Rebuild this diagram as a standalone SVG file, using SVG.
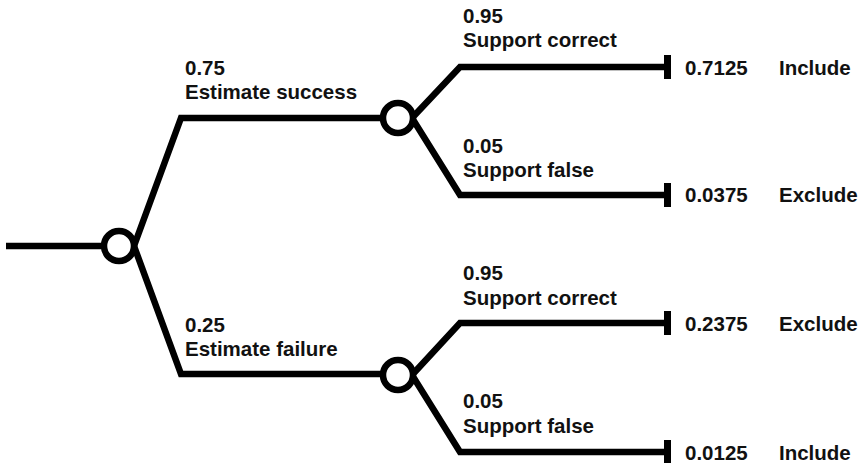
<svg xmlns="http://www.w3.org/2000/svg" width="865" height="463" viewBox="0 0 865 463">
<style>
.ln{fill:none;stroke:#000;stroke-width:6.5;stroke-linejoin:miter}
.nd{fill:#fff;stroke:#000;stroke-width:6.5}
.bar{fill:#000}
text{font-family:"Liberation Sans",Arial,sans-serif;font-weight:bold;font-size:20.5px;fill:#111}
</style>
<rect width="865" height="463" fill="#fff"/>
<g id="connectors">
<path class="ln" d="M6,246 H104"/>
<path class="ln" d="M134,246 L181,118 H383"/>
<path class="ln" d="M134,246 L181,374 H383"/>
<path class="ln" d="M412,118 L460,67 H667"/>
<path class="ln" d="M412,118 L460,195 H667"/>
<path class="ln" d="M412,375 L460,323 H667"/>
<path class="ln" d="M412,375 L460,452 H667"/>
</g>
<g id="root"><circle class="nd" cx="119" cy="246" r="15"/></g>
<g id="chance-success"><circle class="nd" cx="398" cy="118" r="15"/>
<text x="185" y="75">0.75</text><text x="185" y="99">Estimate success</text></g>
<g id="chance-failure"><circle class="nd" cx="398" cy="375" r="15"/>
<text x="185" y="332">0.25</text><text x="185" y="356">Estimate failure</text></g>
<g id="label-s-correct"><text x="463" y="23">0.95</text><text x="463" y="47">Support correct</text></g>
<g id="label-s-false"><text x="463" y="153">0.05</text><text x="463" y="177">Support false</text></g>
<g id="label-f-correct"><text x="463" y="280">0.95</text><text x="463" y="305">Support correct</text></g>
<g id="label-f-false"><text x="463" y="408">0.05</text><text x="463" y="433">Support false</text></g>
<g id="end1"><rect class="bar" x="664" y="55" width="7" height="24"/><text x="685" y="75">0.7125</text><text x="779" y="75">Include</text></g>
<g id="end2"><rect class="bar" x="664" y="183" width="7" height="24"/><text x="685" y="202">0.0375</text><text x="779" y="202">Exclude</text></g>
<g id="end3"><rect class="bar" x="664" y="311" width="7" height="24"/><text x="685" y="331">0.2375</text><text x="779" y="331">Exclude</text></g>
<g id="end4"><rect class="bar" x="664" y="440" width="7" height="24"/><text x="685" y="460">0.0125</text><text x="779" y="460">Include</text></g>
</svg>
